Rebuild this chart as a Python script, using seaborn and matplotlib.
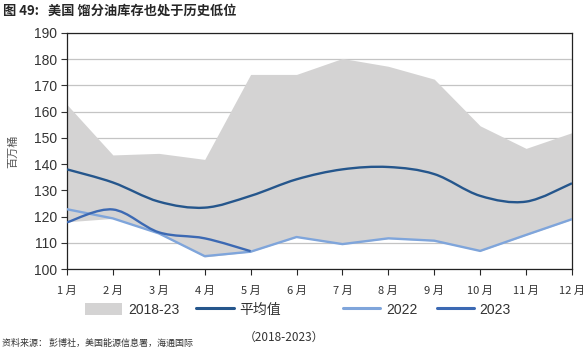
import matplotlib
matplotlib.use("Agg")
import matplotlib.pyplot as plt
import seaborn as sns
import numpy as np
import pandas as pd
from matplotlib.path import Path
from matplotlib.patches import PathPatch, Patch
from matplotlib.lines import Line2D

# data (million barrels)
months = ["1 月", "2 月", "3 月", "4 月", "5 月", "6 月", "7 月", "8 月", "9 月", "10 月", "11 月", "12 月"]
band_high = [162.7, 143.5, 144.1, 141.8, 174.2, 174.2, 180.3, 177.3, 172.4, 154.6, 146.0, 152.0]
band_low = [118.0, 119.3, 113.5, 104.6, 106.5, 112.2, 109.4, 111.6, 110.7, 106.8, 112.9, 118.9]
avg_5y = [138.0, 133.0, 125.7, 123.4, 127.9, 134.2, 138.0, 138.9, 136.2, 127.9, 125.7, 132.7]
y2022 = [122.8, 119.3, 113.6, 104.9, 106.6, 112.2, 109.5, 111.7, 110.8, 106.9, 113.0, 119.0]
y2023 = [117.8, 122.7, 114.0, 111.7, 106.8]

c_fill = "#d4d3d3"
c_avg = "#25568c"
c_2022 = "#7fa5db"
c_2023 = "#3c69b3"

sns.set_theme(style="white")
plt.rcParams["font.family"] = ["Liberation Sans", "Noto Sans CJK SC", "DejaVu Sans"]
cjk = ["Noto Sans CJK SC", "DejaVu Sans"]


def smooth_path(xs, ys):
    # Excel-style smoothed line: Catmull-Rom segments as cubic beziers
    pts = np.column_stack([xs, ys]).astype(float)
    ext = np.vstack([pts[0], pts, pts[-1]])
    verts = [pts[0]]
    codes = [Path.MOVETO]
    for i in range(len(pts) - 1):
        p0, p1, p2, p3 = ext[i], ext[i + 1], ext[i + 2], ext[i + 3]
        verts += [p1 + (p2 - p0) / 6, p2 - (p3 - p1) / 6, p2]
        codes += [Path.CURVE4] * 3
    return Path(verts, codes)


fig = plt.figure(figsize=(5.86, 3.61), dpi=100)
ax = fig.add_axes([0.1143, 0.2548, 0.8618, 0.6538])

x = np.arange(len(months))
df = pd.DataFrame({"x": x, "y2022": y2022})

ax.fill_between(x, band_low, band_high, color=c_fill, lw=0, zorder=1)
sns.lineplot(data=df, x="x", y="y2022", ax=ax, color=c_2022, lw=1.7, zorder=3)
ax.add_patch(PathPatch(smooth_path(x, avg_5y), fill=False, ec=c_avg, lw=1.7, zorder=4))
ax.add_patch(PathPatch(smooth_path(x[:len(y2023)], y2023), fill=False, ec=c_2023, lw=1.7, zorder=5))

ax.set_xlim(0, 11)
ax.set_ylim(100, 190)
ax.set_yticks(range(100, 191, 10))
ax.set_xticks(x)
ax.set_xticklabels(months, family=cjk, fontsize=8, fontweight="medium", color="#333333")
ax.tick_params(axis="y", labelsize=10, colors="#333333", length=4, width=0.8,
               direction="out", left=True, pad=3)
ax.tick_params(axis="x", length=4, width=0.8, direction="out", bottom=True, pad=8)
ax.grid(axis="y", color="#c4c4c4", lw=0.9, zorder=0)
ax.set_axisbelow(True)
for s in ax.spines.values():
    s.set_color("#222222")
    s.set_linewidth(0.9)
ax.set_xlabel("")
ax.set_ylabel("百万桶", family=cjk, fontsize=8, color="#555555", labelpad=11)

# title and source
fig.text(0.005, 0.972, "图 49:   美国 馏分油库存也处于历史低位", family=cjk,
         fontsize=9.5, fontweight="bold", ha="left", va="center")
fig.text(0.003, 0.05, "资料来源： 彭博社，美国能源信息署，海通国际", family=cjk,
         fontsize=6.5, color="#333333", ha="left", va="center")

# legend entries placed one by one
entries = [
    (Patch(fc=c_fill, ec="none"), "2018-23", 0.145),
    (Line2D([], [], color=c_avg, lw=2.2), "平均值", 0.335),
    (Line2D([], [], color=c_2022, lw=2.2), "2022", 0.585),
    (Line2D([], [], color=c_2023, lw=2.2), "2023", 0.745),
]
for h, lab, xpos in entries:
    leg = fig.legend(handles=[h], labels=[lab], loc="center left",
                     bbox_to_anchor=(xpos, 0.142), frameon=False,
                     handlelength=2.7, handleheight=0.9, handletextpad=0.4,
                     borderaxespad=0, borderpad=0,
                     prop={"family": cjk if lab == "平均值" else None, "size": 10})
    for t in leg.get_texts():
        t.set_color("#333333")
fig.text(0.484, 0.066, "（2018-2023）", family=cjk, fontsize=8.5, color="#333333",
         ha="center", va="center")

fig.savefig("out.png", dpi=100)
